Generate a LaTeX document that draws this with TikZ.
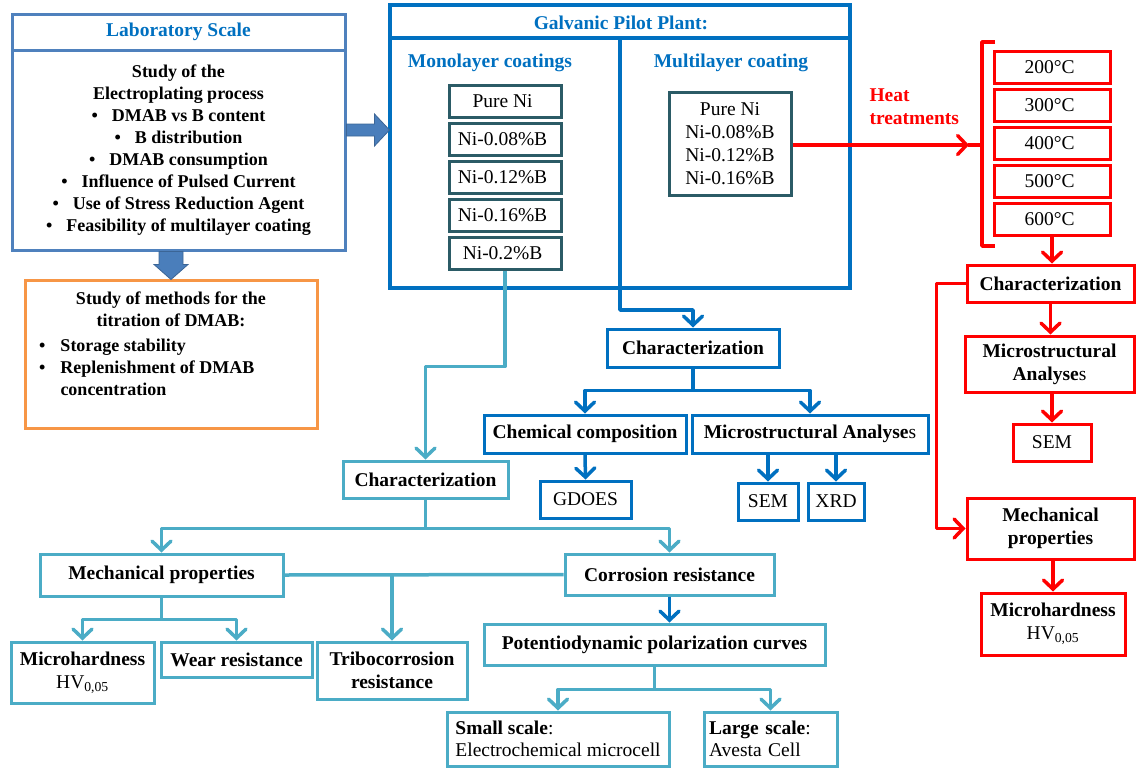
\documentclass[tikz,border=0pt]{standalone}
\usepackage{fontspec}
\setmainfont{Liberation Serif}
\usetikzlibrary{arrows.meta,matrix,positioning,calc}
\definecolor{labblue}{HTML}{4F81BD}
\definecolor{fatblue}{HTML}{4A7EBB}
\definecolor{galblue}{HTML}{0070C0}
\definecolor{niteal}{HTML}{2B5B66}
\definecolor{orng}{HTML}{F79646}
\definecolor{tealc}{HTML}{4BACC6}
\definecolor{heatred}{HTML}{FF0000}
\newcommand\boxfont{\fontsize{19.5}{23}\selectfont}
\newcommand\labfont{\fontsize{18}{22}\selectfont}
\tikzset{
  box/.style={line width=3pt, inner sep=3pt, align=center, font=\boxfont},
  bold/.style={font=\boxfont\bfseries},
  labbox/.style={box, draw=labblue},
  nibox/.style={box, draw=niteal},
  redbox/.style={box, draw=heatred},
  bbox/.style={box, draw=galblue},
  tbox/.style={box, draw=tealc},
  conn/.style={line width=3.5pt, line join=round,
    -{Straight Barb[length=9pt,width=19pt,line cap=round]}},
  rarr/.style={conn, draw=heatred},
  rline/.style={line width=3.5pt, draw=heatred, line join=round},
  barr/.style={conn, draw=galblue},
  tarr/.style={conn, draw=tealc},
  tline/.style={line width=3.5pt, draw=tealc},
  fatarr/.style={fill=fatblue, draw=fatblue!80!black, line width=0.8pt, line join=miter},
}
\begin{document}
\begin{tikzpicture}[x=1pt,y=-1pt]
\useasboundingbox (0,0) rectangle (1136,769);

% laboratory scale
\node[labbox, text=galblue, font=\fontsize{19.5}{22}\selectfont\bfseries,
  minimum width=333pt, minimum height=36pt] (labtitle) at (178.5,32) {Laboratory Scale};
\node[labbox, font=\labfont\bfseries, minimum width=333pt, minimum height=200pt] (lab) at (178.5,150)
  {Study of the\\Electroplating process\\
   \textbullet\hspace{14pt}DMAB vs B content\\
   \textbullet\hspace{14pt}B distribution\\
   \textbullet\hspace{14pt}DMAB consumption\\
   \textbullet\hspace{14pt}Influence of Pulsed Current\\
   \textbullet\hspace{14pt}Use of Stress Reduction Agent\\
   \textbullet\hspace{14pt}Feasibility of multilayer coating};

% titration
\node[box, draw=orng, minimum width=292pt, minimum height=148pt] (titr) at (171,354) {};
\node[font=\labfont\bfseries, align=center, anchor=north] (titrhead) at (171,288)
  {Study of methods for the\\titration of DMAB:};
\node[font=\labfont\bfseries, anchor=north west, inner sep=0pt] (titrlist) at (39,336)
  {\begin{tabular}{@{}l@{\hspace{15pt}}l@{}}
   \textbullet & Storage stability\\
   \textbullet & Replenishment of DMAB\\
   & concentration
   \end{tabular}};

\filldraw[fatarr] (titr.north |- lab.south) ++(-12,0) -- ++(0,13) -- ++(-5,0) -- ++(17,15)
  -- ++(17,-15) -- ++(-5,0) -- ++(0,-13) -- cycle;
\coordinate (la) at ([yshift=20pt]lab.east);

% galvanic pilot plant
\node[box, draw=galblue, line width=3.5pt, minimum width=460pt, minimum height=283pt] (gal) at (620,146.5) {};
\draw[galblue, line width=3.5pt] (gal.west |- 0,38) -- (gal.east |- 0,38);
\node[bold, text=galblue] (galtitle) at (621,23) {Galvanic Pilot Plant:};
\node[bold, text=galblue] (mono) at (490,63) {Monolayer coatings};
\node[bold, text=galblue] (multi) at (731,63) {Multilayer coating};
\filldraw[fatarr] (la) ++(0,-6) -- ++(28,0) -- ++(0,-10) -- ++(15,16) -- ++(-15,16)
  -- ++(0,-10) -- ++(-28,0) -- cycle;

\matrix[matrix of nodes, nodes={nibox, minimum width=112pt, minimum height=32pt},
  row sep=3pt] (ni) at (505,177) {
Pure Ni \\
Ni-0.08\%B \\
Ni-0.12\%B \\
Ni-0.16\%B \\
Ni-0.2\%B \\
};
\node[nibox, minimum width=122pt, minimum height=103pt] (multbox) at (730,143.5)
  {Pure Ni\\Ni-0.08\%B\\Ni-0.12\%B\\Ni-0.16\%B};

% heat treatments
\node[bold, text=heatred, align=left, anchor=west] (heat) at (866,107) {Heat\\treatments};
\matrix[matrix of nodes, nodes={redbox, minimum width=116pt, minimum height=32pt},
  row sep=3pt] (temps) at (1052,143.5) {
200°C \\
300°C \\
400°C \\
500°C \\
600°C \\
};
\coordinate (brk) at (982,145);
\draw[rarr] (multbox.east |- brk) -- ([xshift=-13pt]brk);
\draw[rline] ([xshift=-14pt]brk) -- (brk) (995,42) -- (982,42) -- (982,246) -- (995,246);

\node[redbox, bold, minimum width=167pt, minimum height=37pt] (charR) at (1050.5,283.5) {Characterization};
\node[redbox, bold, minimum width=169pt, minimum height=56pt] (microR) at (1049.5,364)
  {Microstructural\\Analyse{\mdseries s}};
\node[redbox, minimum width=78pt, minimum height=37pt] (semR) at (1052,442.5) {SEM};
\node[redbox, bold, minimum width=167pt, minimum height=61pt] (mechR) at (1050.5,528.5)
  {Mechanical\\properties};
\node[redbox, bold, minimum width=144pt, minimum height=62pt] (mhR) at (1053,624)
  {Microhardness\\{\mdseries HV\textsubscript{0,05}}};

\draw[rarr] (temps-5-1.south) -- (temps-5-1.south |- charR.north);
\draw[rarr] (charR.south) -- (charR.south |- microR.north);
\draw[rarr] (semR.north |- microR.south) -- (semR.north);
\draw[rarr] (charR.west) -- ++(-29,0) |- (mechR.west);
\draw[rarr] (mhR.north |- mechR.south) -- (mhR.north);

% multilayer characterization
\node[bbox, bold, minimum width=172pt, minimum height=38pt] (charB) at (693,348) {Characterization};
\node[bbox, bold, minimum width=202pt, minimum height=38pt] (chem) at (585,434) {Chemical composition};
\node[bbox, bold, minimum width=236pt, minimum height=38pt] (microB) at (810,434)
  {Microstructural Analyse{\mdseries s}};
\node[bbox, minimum width=91pt, minimum height=37pt] (gdoes) at (585.5,499.5) {GDOES};
\node[bbox, minimum width=60pt, minimum height=37pt] (semB) at (768,501.5) {SEM};
\node[bbox, minimum width=56pt, minimum height=37pt] (xrd) at (836,501.5) {XRD};

\coordinate (gdiv) at (620,38);
\draw[barr] (gdiv) -- (620,310) -| (charB.north);
\draw[barr] (charB.south) -- ++(0,22) -| (chem.north);
\draw[barr] (charB.south) -- ++(0,22) -| (microB.north);
\draw[barr] (chem.south) -- (gdoes.north);
\draw[barr] (semB.north |- microB.south) -- (semB.north);
\draw[barr] (xrd.north |- microB.south) -- (xrd.north);

% monolayer characterization
\node[tbox, bold, minimum width=165pt, minimum height=37pt] (charT) at (425.5,479.5) {Characterization};
\node[tbox, bold, minimum width=243pt, minimum height=42pt] (mechT) at (161.5,575) {Mechanical properties};
\node[tbox, bold, minimum width=209pt, minimum height=41pt] (corr) at (669.5,574.5) {Corrosion resistance};
\node[tbox, bold, minimum width=143pt, minimum height=61pt] (mhT) at (82.5,672.5)
  {Microhardness\\{\mdseries HV\textsubscript{0,05}}};
\node[tbox, bold, minimum width=151pt, minimum height=35pt] (wear) at (236.5,659.5) {Wear resistance};
\node[tbox, bold, minimum width=150pt, minimum height=57pt] (tribo) at (392,670.5) {Tribocorrosion\\resistance};
\node[tbox, bold, minimum width=341pt, minimum height=41pt] (pot) at (654.5,644.5)
  {Potentiodynamic polarization curves};
\node[tbox, align=left, font=\fontsize{19.5}{22}\selectfont, minimum width=222pt, minimum height=54pt] (small) at (558,739)
  {\textbf{Small scale}:\\Electrochemical microcell};
\node[tbox, align=left, font=\fontsize{19.5}{22}\selectfont, text width=123pt, inner xsep=5pt,
  minimum height=54pt] (large) at (770.5,739)
  {\textbf{Large scale}:\\Avesta Cell};

\draw[tarr] (ni-5-1.south) -- ++(0,96) -| (charT.north);
\draw[tarr] (charT.south) -- ++(0,29) -| (mechT.north);
\draw[tarr] (charT.south) -- ++(0,29) -| (corr.north);
\draw[tline] (mechT.east) -- (corr.west);
\draw[tarr] (tribo.north |- mechT.east) -- (tribo.north);
\draw[tarr] (mechT.south) -- ++(0,22) -| (mhT.north);
\draw[tarr] (mechT.south) -- ++(0,22) -| (wear.north);
\draw[barr] (corr.south) -- (corr.south |- pot.north);
\draw[tarr] (pot.south) -- ++(0,23) -| (small.north);
\draw[tarr] (pot.south) -- ++(0,23) -| (large.north);
\end{tikzpicture}
\end{document}
